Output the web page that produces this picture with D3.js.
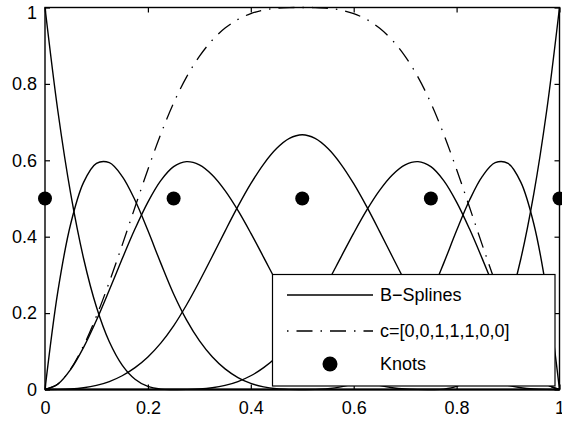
<!DOCTYPE html>
<html lang="en">
<head>
<meta charset="utf-8">
<title>B-splines</title>
<script src="https://cdn.jsdelivr.net/npm/d3@7"></script>
<style>
  body{ margin:0; background:#fff; }
  svg{ display:block; font-family:"Liberation Sans", Arial, Helvetica, sans-serif; }
</style>
</head>
<body>
<div id="chart"></div>
<script>
// x grid the curves were read at
var xs = [0,0.025,0.05,0.075,0.1,0.125,0.15,0.175,0.2,0.225,0.25,0.275,0.3,0.325,0.35,0.375,0.4,0.425,0.45,0.475,
          0.5,0.525,0.55,0.575,0.6,0.625,0.65,0.675,0.7,0.725,0.75,0.775,0.8,0.825,0.85,0.875,0.9,0.925,0.95,0.975,1]

// the seven basis curves
var b0 = [1,.729,.512,.343,.216,.125,.064,.027,.008,.001,0,0,0,0,0,0,0,0,0,0,0,0,0,0,0,0,0,0,0,0,0,0,0,0,0,0,0,0,0,0,0]
var b1 = [0,.2568,.434,.5423,.592,.5938,.558,.4953,.416,.3308,.25,.1823,.128,.0858,.054,.0313,.016,.0068,.002,.0003,0,
          0,0,0,0,0,0,0,0,0,0,0,0,0,0,0,0,0,0,0,0]
var b2 = [0,.0141,.0527,.1103,.1813,.2604,.342,.4206,.4907,.5468,.5833,.5964,.588,.5616,.5207,.4688,.4093,.3459,.282,.2211,
          .1667,.1215,.0853,.0572,.036,.0208,.0107,.0045,.0013,.0002,0,0,0,0,0,0,0,0,0,0,0]
var b3 = [0,.0002,.0013,.0045,.0107,.0208,.036,.0572,.0853,.1215,.1667,.2212,.2827,.3482,.4147,.4792,.5387,.5902,.6307,.6572,
          .6667,.6572,.6307,.5902,.5387,.4792,.4147,.3482,.2827,.2212,.1667,.1215,.0853,.0572,.036,.0208,.0107,.0045,.0013,.0002,0]
var b4 = [0,0,0,0,0,0,0,0,0,0,0,.0002,.0013,.0045,.0107,.0208,.036,.0572,.0853,.1215,.1667,.2211,.282,.3459,.4093,.4688,
          .5207,.5616,.588,.5964,.5833,.5468,.4907,.4206,.342,.2604,.1813,.1103,.0527,.0141,0]
var b5 = [0,0,0,0,0,0,0,0,0,0,0,0,0,0,0,0,0,0,0,0,0,.0003,.002,.0068,.016,.0313,.054,.0858,.128,.1823,.25,.3308,.416,.4953,
          .558,.5938,.592,.5423,.434,.2568,0]
var b6 = [0,0,0,0,0,0,0,0,0,0,0,0,0,0,0,0,0,0,0,0,0,0,0,0,0,0,0,0,0,0,0,.001,.008,.027,.064,.125,.216,.343,.512,.729,1]

// weighted sum with c=[0,0,1,1,1,0,0]
var combo = [0,.0143,.054,.1148,.192,.2812,.378,.4778,.576,.6683,.75,.8178,.872,.9143,.9461,.9688,.984,.9933,.998,.9998,1,
             .9998,.998,.9933,.984,.9688,.9461,.9143,.872,.8178,.75,.6683,.576,.4778,.378,.2812,.192,.1148,.054,.0143,0]

var knotX = [0,0.25,0.5,0.75,1]
var knotY = [0.5,0.5,0.5,0.5,0.5]

var tickVals = [0,0.2,0.4,0.6,0.8,1]
var tickLabels = ["0","0.2","0.4","0.6","0.8","1"]

var legendLabels = ["B\u2212Splines","c=[0,0,1,1,1,0,0]","Knots"]

var w = 562, h = 423
var padL = 45, padR = 559.5, padT = 7.5, padB = 389.5
var dashDot = "16,8,1.5,8"

var svg = d3.select("#chart").append("svg").attr("width",w).attr("height",h)

var x = d3.scaleLinear().domain([0,1]).range([padL,padR])
var y = d3.scaleLinear().domain([0,1]).range([padB,padT])

function fmt(d){ return tickLabels[tickVals.indexOf(d)] }

// axes, MATLAB style ticks pointing in
svg.append("g").attr("transform","translate(0,"+padB+")")
  .call(d3.axisBottom(x).tickValues(tickVals).tickFormat(fmt).tickSizeInner(-5).tickSizeOuter(0).tickPadding(12))
var yAxis = svg.append("g").attr("transform","translate("+padL+",0)")
  .call(d3.axisLeft(y).tickValues(tickVals).tickFormat(fmt).tickSizeInner(-5).tickSizeOuter(0).tickPadding(8))
svg.append("g").attr("transform","translate(0,"+padT+")")
  .call(d3.axisTop(x).tickValues(tickVals).tickFormat("").tickSizeInner(-5).tickSizeOuter(0))
svg.append("g").attr("transform","translate("+padR+",0)")
  .call(d3.axisRight(y).tickValues(tickVals).tickFormat("").tickSizeInner(-5).tickSizeOuter(0))

svg.selectAll(".domain").remove()
svg.selectAll(".tick line").attr("stroke","#000").attr("stroke-width",1.2)
svg.selectAll(".tick text").attr("font-size",18).attr("fill","#000")
  .attr("font-family","'Liberation Sans', Arial, sans-serif")
// top label sits a little lower so it stays on the page
yAxis.selectAll(".tick text").filter(function(d){ return d==1 }).attr("dy","0.62em")

var line = d3.line()
  .x(function(d){ return x(d[0]) })
  .y(function(d){ return y(d[1]) })
  .curve(d3.curveCatmullRom.alpha(0.5))

var basis = [b0,b1,b2,b3,b4,b5,b6]
svg.selectAll(".basis")
  .data(basis)
  .enter()
  .append("path")
  .attr("class","basis")
  .attr("fill","none")
  .attr("stroke","#000")
  .attr("stroke-width",1.4)
  .attr("d",function(vals){
    return line(xs.map(function(v,i){ return [v,vals[i]] }))
  })

svg.append("path")
  .attr("fill","none")
  .attr("stroke","#000")
  .attr("stroke-width",1.3)
  .attr("stroke-dasharray",dashDot)
  .attr("d",line(xs.map(function(v,i){ return [v,combo[i]] })))

// frame
svg.append("rect")
  .attr("x",padL).attr("y",padT)
  .attr("width",padR-padL).attr("height",padB-padT)
  .attr("fill","none").attr("stroke","#000").attr("stroke-width",1.4)

svg.selectAll(".knot")
  .data(knotX)
  .enter()
  .append("circle")
  .attr("class","knot")
  .attr("cx",function(d){ return x(d) })
  .attr("cy",function(d,i){ return y(knotY[i]) })
  .attr("r",7)
  .attr("fill","#000")

// legend
var lg = svg.append("g")
lg.append("rect")
  .attr("x",272.5).attr("y",274.5).attr("width",282.5).attr("height",111.5)
  .attr("fill","#fff").attr("stroke","#000").attr("stroke-width",1.2)

var rowY = [295,331,364]
lg.append("line").attr("x1",287).attr("x2",373).attr("y1",rowY[0]).attr("y2",rowY[0])
  .attr("stroke","#000").attr("stroke-width",1.4)
lg.append("line").attr("x1",287).attr("x2",373).attr("y1",rowY[1]).attr("y2",rowY[1])
  .attr("stroke","#000").attr("stroke-width",1.4).attr("stroke-dasharray","1.5,8,16,8")
lg.append("circle").attr("cx",330).attr("cy",rowY[2]).attr("r",7.5).attr("fill","#000")

lg.selectAll("text")
  .data(legendLabels)
  .enter()
  .append("text")
  .attr("x",380)
  .attr("y",function(d,i){ return rowY[i] })
  .attr("dy","0.35em")
  .attr("font-size",18)
  .attr("fill","#000")
  .text(function(d){ return d })
</script>
</body>
</html>
